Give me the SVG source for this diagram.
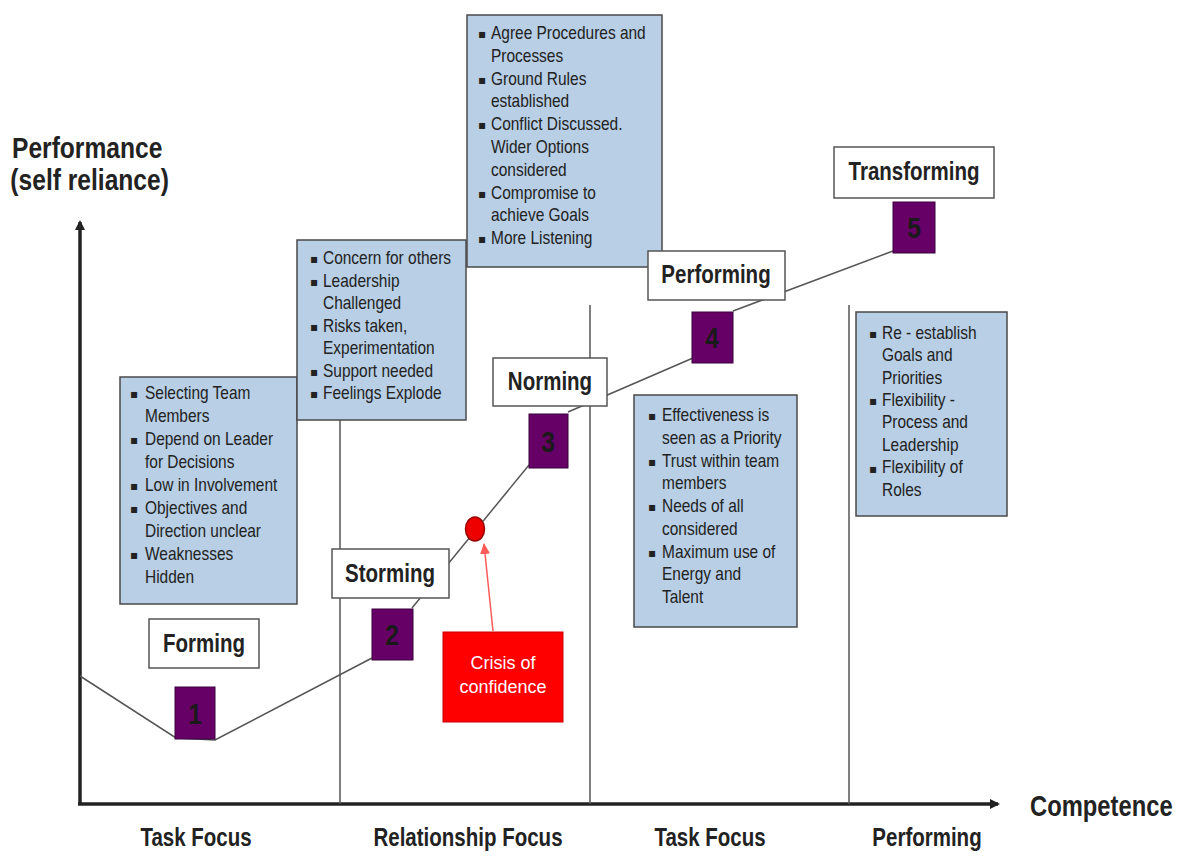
<svg xmlns="http://www.w3.org/2000/svg" width="1185" height="866" viewBox="0 0 1185 866">
<style>
.nt{fill:#b8cfe5;stroke:#4a4a4a;stroke-width:1.5}
.lb{fill:#fff;stroke:#555;stroke-width:1.5}
.sq{fill:#660066;stroke:#3a003a;stroke-width:1}
.bt{font-family:"Liberation Sans",Arial,sans-serif;font-size:18px;fill:#222}
.bu{font-family:"DejaVu Sans",sans-serif;font-size:12px;fill:#222}
.lt{font-family:"Liberation Sans",Arial,sans-serif;font-size:25px;font-weight:bold;fill:#222;text-anchor:middle}
.num{font-family:"Liberation Sans",Arial,sans-serif;font-size:30px;font-weight:bold;fill:#1a1a1a;text-anchor:middle}
.ax{font-family:"Liberation Sans",Arial,sans-serif;font-weight:bold;fill:#222}
.div{stroke:#555;stroke-width:1.5}
.con{fill:none;stroke:#555;stroke-width:1.5}
</style>
<defs>
<marker id="ah" markerWidth="10" markerHeight="10" refX="8" refY="5" orient="auto" markerUnits="userSpaceOnUse"><path d="M0,0 L10,5 L0,10 z" fill="#222"/></marker>
<marker id="rh" markerWidth="12" markerHeight="12" refX="10" refY="6" orient="auto" markerUnits="userSpaceOnUse"><path d="M0,1 L11,6 L0,11 z" fill="#ff5a5a"/></marker>
</defs>
<rect width="1185" height="866" fill="#fff"/>

<g id="axes">
<line x1="80" y1="804" x2="80" y2="222" stroke="#222" stroke-width="3.5" marker-end="url(#ah)"/>
<line x1="78" y1="804" x2="998" y2="804" stroke="#222" stroke-width="3.5" marker-end="url(#ah)"/>
<g transform="translate(12,0) scale(0.82,1)"><text class="ax" x="0" y="158" font-size="30">Performance</text><text class="ax" x="-2" y="190" font-size="30">(self reliance)</text></g>
<g transform="translate(1030,0) scale(0.82,1)"><text class="ax" x="0" y="816" font-size="29">Competence</text></g>
</g>

<g id="dividers">
<line class="div" x1="340" y1="240" x2="340" y2="804"/>
<line class="div" x1="590" y1="305" x2="590" y2="804"/>
<line class="div" x1="849" y1="305" x2="849" y2="804"/>
</g>

<g id="connectors">
<polyline class="con" points="80,676 176,738 215,740 372,658"/>
<polyline class="con" points="412,608 529,465"/>
<polyline class="con" points="568,412 693,358"/>
<polyline class="con" points="733,311 893,251"/>
<line x1="493" y1="631" x2="484" y2="544" stroke="#ff5a5a" stroke-width="1.5" marker-end="url(#rh)"/>
</g>

<g id="notes-forming">
<rect class="nt" x="120" y="377" width="177" height="227"/>
<text class="bu"><tspan x="130" y="398">▪</tspan><tspan x="130" y="444">▪</tspan><tspan x="130" y="490">▪</tspan><tspan x="130" y="513">▪</tspan><tspan x="130" y="559">▪</tspan></text>
<g transform="translate(145,0) scale(0.86,1)"><text class="bt"><tspan x="0" y="399">Selecting Team</tspan><tspan x="0" y="422">Members</tspan><tspan x="0" y="445">Depend on Leader</tspan><tspan x="0" y="468">for Decisions</tspan><tspan x="0" y="491">Low in Involvement</tspan><tspan x="0" y="514">Objectives and</tspan><tspan x="0" y="537">Direction unclear</tspan><tspan x="0" y="560">Weaknesses</tspan><tspan x="0" y="583">Hidden</tspan></text></g>
</g>

<g id="notes-storming">
<rect class="nt" x="297" y="240" width="169" height="180"/>
<text class="bu"><tspan x="310" y="263">▪</tspan><tspan x="310" y="286">▪</tspan><tspan x="310" y="331">▪</tspan><tspan x="310" y="376">▪</tspan><tspan x="310" y="398">▪</tspan></text>
<g transform="translate(323,0) scale(0.86,1)"><text class="bt"><tspan x="0" y="264">Concern for others</tspan><tspan x="0" y="287">Leadership</tspan><tspan x="0" y="309">Challenged</tspan><tspan x="0" y="332">Risks taken,</tspan><tspan x="0" y="354">Experimentation</tspan><tspan x="0" y="377">Support needed</tspan><tspan x="0" y="399">Feelings Explode</tspan></text></g>
</g>

<g id="notes-norming">
<rect class="nt" x="467" y="15" width="195" height="252"/>
<text class="bu"><tspan x="478" y="38">▪</tspan><tspan x="478" y="84">▪</tspan><tspan x="478" y="129">▪</tspan><tspan x="478" y="198">▪</tspan><tspan x="478" y="243">▪</tspan></text>
<g transform="translate(491,0) scale(0.86,1)"><text class="bt"><tspan x="0" y="39">Agree Procedures and</tspan><tspan x="0" y="62">Processes</tspan><tspan x="0" y="85">Ground Rules</tspan><tspan x="0" y="107">established</tspan><tspan x="0" y="130">Conflict Discussed.</tspan><tspan x="0" y="153">Wider Options</tspan><tspan x="0" y="176">considered</tspan><tspan x="0" y="199">Compromise to</tspan><tspan x="0" y="221">achieve Goals</tspan><tspan x="0" y="244">More Listening</tspan></text></g>
</g>

<g id="notes-performing">
<rect class="nt" x="634" y="395" width="163" height="232"/>
<text class="bu"><tspan x="648" y="420">▪</tspan><tspan x="648" y="466">▪</tspan><tspan x="648" y="511">▪</tspan><tspan x="648" y="557">▪</tspan></text>
<g transform="translate(662,0) scale(0.86,1)"><text class="bt"><tspan x="0" y="421">Effectiveness is</tspan><tspan x="0" y="444">seen as a Priority</tspan><tspan x="0" y="467">Trust within team</tspan><tspan x="0" y="489">members</tspan><tspan x="0" y="512">Needs of all</tspan><tspan x="0" y="535">considered</tspan><tspan x="0" y="558">Maximum use of</tspan><tspan x="0" y="580">Energy and</tspan><tspan x="0" y="603">Talent</tspan></text></g>
</g>

<g id="notes-transforming">
<rect class="nt" x="856" y="312" width="151" height="204"/>
<text class="bu"><tspan x="869" y="338">▪</tspan><tspan x="869" y="405">▪</tspan><tspan x="869" y="473">▪</tspan></text>
<g transform="translate(882,0) scale(0.86,1)"><text class="bt"><tspan x="0" y="339">Re - establish</tspan><tspan x="0" y="361">Goals and</tspan><tspan x="0" y="384">Priorities</tspan><tspan x="0" y="406">Flexibility -</tspan><tspan x="0" y="428">Process and</tspan><tspan x="0" y="451">Leadership</tspan><tspan x="0" y="473">Flexibility of</tspan><tspan x="0" y="496">Roles</tspan></text></g>
</g>

<g id="stage-forming">
<rect class="lb" x="149" y="619" width="110" height="49"/>
<g transform="translate(204,0) scale(0.82,1)"><text class="lt" x="0" y="652">Forming</text></g>
<rect class="sq" x="175" y="687" width="40" height="52"/>
<g transform="translate(195,0) scale(0.82,1)"><text class="num" x="0" y="724">1</text></g>
</g>

<g id="stage-storming">
<rect class="lb" x="332" y="549" width="117" height="49"/>
<g transform="translate(390,0) scale(0.82,1)"><text class="lt" x="0" y="582">Storming</text></g>
<rect class="sq" x="372" y="609" width="41" height="51"/>
<g transform="translate(392,0) scale(0.82,1)"><text class="num" x="0" y="645">2</text></g>
</g>

<g id="stage-norming">
<rect class="lb" x="493" y="358" width="114" height="48"/>
<g transform="translate(550,0) scale(0.82,1)"><text class="lt" x="0" y="390">Norming</text></g>
<rect class="sq" x="529" y="414" width="39" height="54"/>
<g transform="translate(548,0) scale(0.82,1)"><text class="num" x="0" y="452">3</text></g>
</g>

<g id="stage-performing">
<rect class="lb" x="648" y="251" width="137" height="49"/>
<g transform="translate(716,0) scale(0.82,1)"><text class="lt" x="0" y="283">Performing</text></g>
<rect class="sq" x="692" y="312" width="41" height="51"/>
<g transform="translate(712,0) scale(0.82,1)"><text class="num" x="0" y="348">4</text></g>
</g>

<g id="stage-transforming">
<rect class="lb" x="834" y="147" width="160" height="51"/>
<g transform="translate(914,0) scale(0.82,1)"><text class="lt" x="0" y="180">Transforming</text></g>
<rect class="sq" x="893" y="202" width="42" height="51"/>
<g transform="translate(914,0) scale(0.82,1)"><text class="num" x="0" y="238">5</text></g>
</g>

<g id="crisis">
<ellipse cx="475" cy="529" rx="9.5" ry="12" fill="#ee0000" stroke="#990000" stroke-width="1.5"/>
<rect x="443" y="632" width="120" height="90" fill="#ff0000" stroke="#cc0000" stroke-width="1"/>
<text font-family="'Liberation Sans',sans-serif" font-size="18" fill="#fff" text-anchor="middle"><tspan x="503" y="669">Crisis of</tspan><tspan x="503" y="693">confidence</tspan></text>
</g>

<g id="phase-labels">
<g transform="translate(196,0) scale(0.82,1)"><text class="ax" font-size="25" text-anchor="middle" x="0" y="846">Task Focus</text></g>
<g transform="translate(468,0) scale(0.82,1)"><text class="ax" font-size="25" text-anchor="middle" x="0" y="846">Relationship Focus</text></g>
<g transform="translate(710,0) scale(0.82,1)"><text class="ax" font-size="25" text-anchor="middle" x="0" y="846">Task Focus</text></g>
<g transform="translate(927,0) scale(0.82,1)"><text class="ax" font-size="25" text-anchor="middle" x="0" y="846">Performing</text></g>
</g>
</svg>
